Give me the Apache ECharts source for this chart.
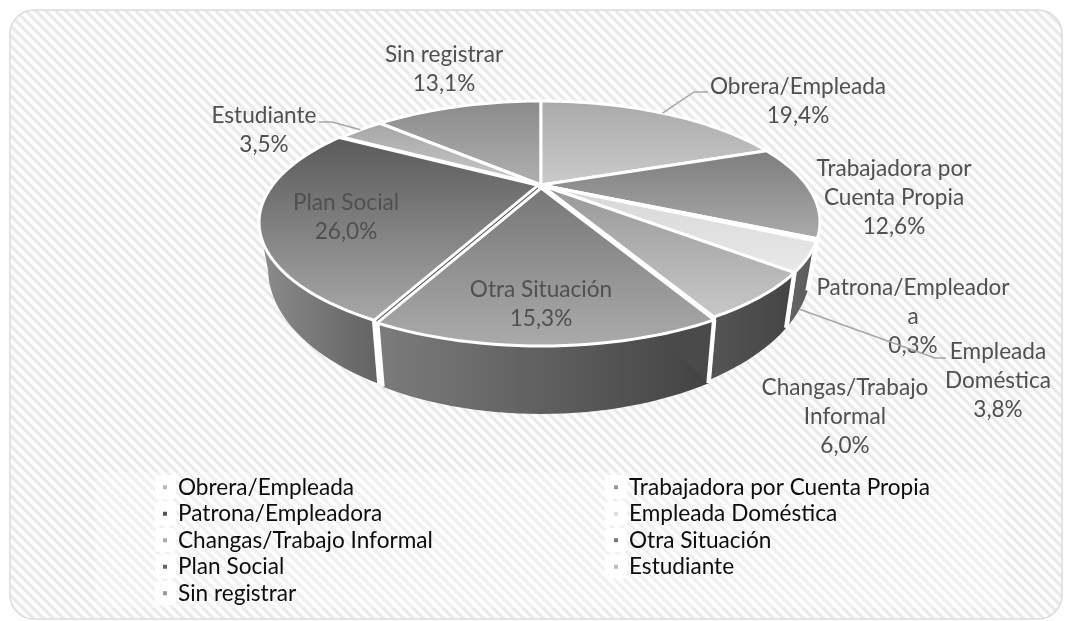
<!DOCTYPE html>
<html><head><meta charset="utf-8">
<style>html,body{margin:0;padding:0;background:#fff}#c{width:1072px;height:621px}</style>
<script src="https://cdn.jsdelivr.net/npm/echarts@6/dist/echarts.min.js"></script>
</head><body><div id="c"></div>
<script>
// ---- data ----
const categories = ['Obrera/Empleada','Trabajadora por Cuenta Propia','Patrona/Empleadora','Empleada Doméstica','Changas/Trabajo Informal','Otra Situación','Plan Social','Estudiante','Sin registrar'];
const shares = [19.4,12.6,0.3,3.8,6.0,15.3,26.0,3.5,13.1];
const labelLines = [['Obrera/Empleada'],['Trabajadora por','Cuenta Propia'],['Patrona/Empleador','a'],['Empleada','Doméstica'],['Changas/Trabajo','Informal'],['Otra Situación'],['Plan Social'],['Estudiante'],['Sin registrar']];
const legendLeft = ['Obrera/Empleada','Patrona/Empleadora','Changas/Trabajo Informal','Plan Social','Sin registrar'];
const legendRight = ['Trabajadora por Cuenta Propia','Empleada Doméstica','Otra Situación','Estudiante'];

// ---- styling / layout ----
const topShades = [['#a9a9a9','#cbcbcb'],['#7d7d7d','#ababab'],['#555','#777'],['#d6d6d6','#e9e9e9'],['#979797','#c8c8c8'],['#767676','#ababab'],['#5a5a5a','#a8a8a8'],['#a5a5a5','#cacaca'],['#8a8a8a','#b0b0b0']];
const wallShades = [['#999','#999'],['#888','#888'],['#555','#555'],['#666','#585858'],['#555','#444'],['#7c7c7c','#424242'],['#8c8c8c','#626262'],['#999','#999'],['#888','#888']];
const legendColors = ['#bbb','#999','#555','#ddd','#aaa','#777','#666','#bbb','#999'];
const explode = [0,0,0,0,0,3,3,0,0];
const paintOrder = [8,0,7,1,2,3,4,6,5];
const top0 = {x:541,y:222,rx:279,ry:121}, bot0 = {x:541,y:268,rx:270,ry:143};
const apexY = 185;
const b = (apexY-top0.y)/top0.ry;
const labelBoxes = [{x:798,y:87},{x:894,y:169},{x:913,y:288},{x:998,y:352},{x:845,y:388},{x:541,y:290},{x:346,y:203},{x:264,y:116},{x:444,y:55}];
const lineH = 28.7;
const leaders = {0:{elbow:[[694,92],[708,92]]},3:{elbow:[[935,358],[946,358]],fromBottom:true},7:{elbow:[[332,122],[319,122]]}};
const fontStack = 'Lato, "Noto Sans", sans-serif';

// ---- geometry: projective disc ----
const cum = []; shares.reduce((s,v,i)=>{cum[i]=s;return s+v;},0);
function unit(pct){
  const t = pct/100*2*Math.PI, u=Math.sin(t), v=-Math.cos(t), d=1+b*v;
  return {x:u*Math.sqrt(1-b*b)/d, y:(v+b)/d};
}
const P=(e,p,o)=>[e.x+e.rx*p.x+o[0], e.y+e.ry*p.y+o[1]];
function offset(i){
  if(!explode[i]) return [0,0];
  const m=unit(cum[i]+shares[i]/2), c={x:0,y:b};
  const dx=(m.x-c.x)*top0.rx, dy=(m.y-c.y)*top0.ry, l=Math.hypot(dx,dy);
  return [dx/l*explode[i],dy/l*explode[i]];
}
function rim(a0,a1){
  const n=Math.max(2,Math.ceil((a1-a0)*2)), r=[];
  for(let k=0;k<=n;k++) r.push(unit(a0+(a1-a0)*k/n));
  return r;
}
const grad=(h,c)=>new echarts.graphic.LinearGradient(0,0,h?1:0,h?0:1,[{offset:0,color:c[0]},{offset:1,color:c[1]}]);
const edge={stroke:'#fff',lineWidth:3,lineJoin:'round'};

function renderSlice(i,params,api){
  const val=api.value(0), a0=cum[i], a1=a0+val, o=offset(i), kids=[];
  const pts=rim(a0,a1);
  const vis=pts.filter(p=>p.y>=0);
  if(vis.length>1){
    const poly=vis.map(p=>P(top0,p,o)).concat(vis.slice().reverse().map(p=>P(bot0,p,o)));
    kids.push({type:'polygon',shape:{points:poly},style:{fill:grad(true,wallShades[i])}});
  }
  if(explode[i]){
    const c={x:0,y:b};
    const f=[P(top0,c,o),P(top0,pts[0],o),P(bot0,pts[0],o),P(bot0,c,o)];
    kids.push({type:'polygon',shape:{points:f},style:{fill:'#4a4a4a'}});
  }
  // white seams down the wall at the slice boundaries
  [pts[0],pts[pts.length-1]].forEach(p=>{
    if(p.y>=0){
      const s=P(top0,p,o), e=P(bot0,p,o);
      kids.push({type:'line',shape:{x1:s[0],y1:s[1],x2:e[0],y2:e[1]},style:{stroke:'#fff',lineWidth:4.4}});
    }
  });
  const poly=[P(top0,{x:0,y:b},o)].concat(pts.map(p=>P(top0,p,o)));
  kids.push({type:'polygon',shape:{points:poly},style:Object.assign({fill:grad(false,topShades[i])},edge)});
  return {type:'group',children:kids};
}
function renderLabel(params,api){
  const i=params.dataIndex, val=api.value(0), kids=[];
  const txt=labelLines[i].concat([val.toFixed(1).replace('.',',')+'%']);
  const box=labelBoxes[i];
  txt.forEach((t,k)=>kids.push({type:'text',style:{text:t,x:box.x,y:box.y+k*lineH,align:'center',verticalAlign:'middle',font:'22.6px '+fontStack,fill:'#505050'}}));
  const L=leaders[i];
  if(L){
    const m=unit(cum[i]+shares[i]/2);
    const s=P(L.fromBottom?bot0:top0,m,[0,0]);
    kids.push({type:'polyline',shape:{points:[s].concat(L.elbow)},style:{fill:'none',stroke:'#a6a6a6',lineWidth:1.5}});
  }
  return {type:'group',children:kids};
}
// stripes
const P0=10;
const tile=document.createElement('canvas');tile.width=tile.height=P0;
(function(){const g=tile.getContext('2d'),d=g.createImageData(P0,P0);
 for(let y=0;y<P0;y++)for(let x=0;x<P0;x++){const q=Math.pow((Math.cos((x-y)/P0*2*Math.PI)+1)/2,0.7),c=Math.round(230+25*q),k=(y*P0+x)*4;d.data[k]=d.data[k+1]=d.data[k+2]=c;d.data[k+3]=255;}
 g.putImageData(d,0,0);})();

const series=categories.map((name,i)=>({name,type:'custom',coordinateSystem:'none',silent:true,z:2+paintOrder.indexOf(i),itemStyle:{color:legendColors[i]},data:[[shares[i]]],renderItem:(p,a)=>renderSlice(i,p,a),animation:false}));
series.push({name:'labels',type:'custom',coordinateSystem:'none',silent:true,z:30,data:shares.map(v=>[v]),renderItem:renderLabel,animation:false});

const rowTop=i=>475+i*26.5;
const patches=(list,x,w)=>list.map((_,i)=>({type:'rect',z:-8,silent:true,shape:{x,y:rowTop(i),width:w,height:24,r:4},style:{fill:'#fff'}}));
const chart=echarts.init(document.getElementById('c'),null,{renderer:'canvas'});
const legendBase={orient:'vertical',icon:'rect',itemWidth:4,itemHeight:4,itemGap:0,padding:0,selectedMode:false,textStyle:{fontFamily:fontStack,fontSize:22.6,color:'#0d0d0d',lineHeight:26.5,padding:[0,0,0,6]}};
chart.setOption({
  animation:false,
  graphic:[
    {type:'rect',z:-10,silent:true,shape:{x:10,y:10,width:1052,height:609,r:24},style:{fill:{image:tile,repeat:'repeat'},stroke:'#dcdcdc',lineWidth:1.5}},
    {type:'rect',z:-9,silent:true,shape:{x:95,y:472,width:910,height:136},style:{fill:'rgba(255,255,255,0.3)'}}
  ].concat(patches(legendLeft,155,21),patches(legendRight,605,22)),
  legend:[
    Object.assign({},legendBase,{data:legendLeft,left:163,top:474}),
    Object.assign({},legendBase,{data:legendRight,left:614,top:474})
  ],
  series
});
</script></body></html>
